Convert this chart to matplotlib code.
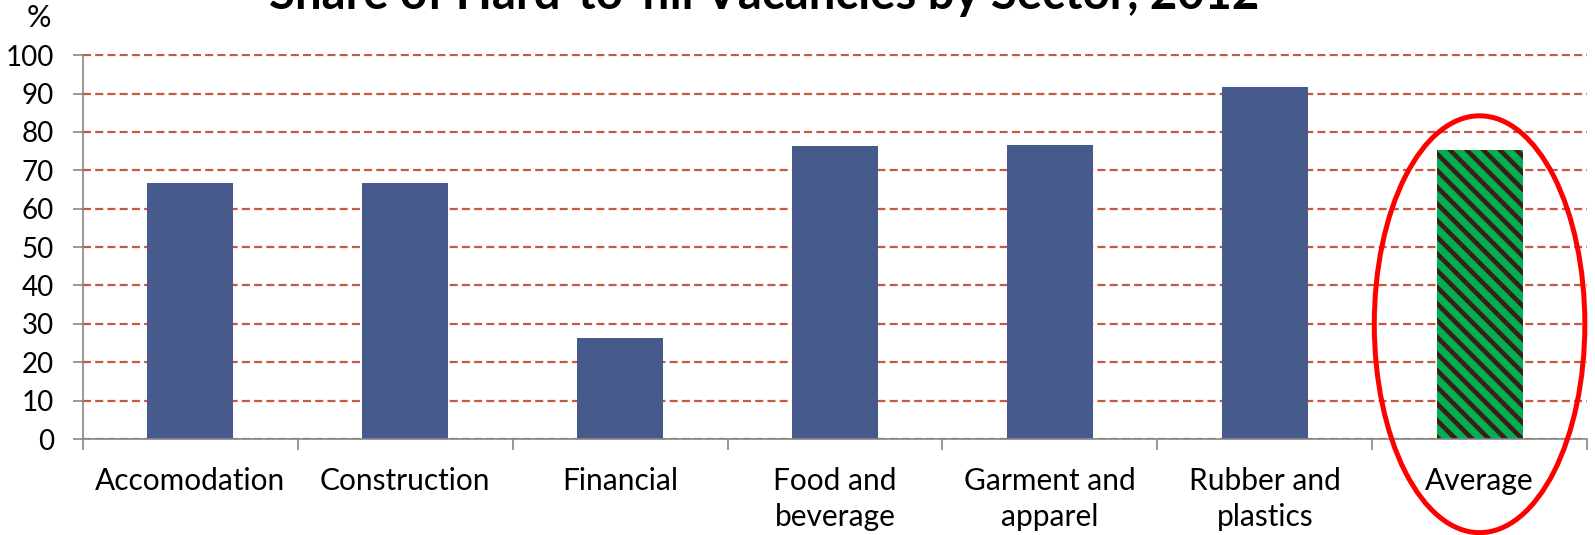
import matplotlib
matplotlib.use("Agg")
import matplotlib.pyplot as plt
from matplotlib.patches import Ellipse

categories = ["Accomodation", "Construction", "Financial", "Food and\nbeverage",
              "Garment and\napparel", "Rubber and\nplastics", "Average"]
values = [66.7, 66.8, 26.4, 76.4, 76.5, 91.8, 75.2]
yticks = [0, 10, 20, 30, 40, 50, 60, 70, 80, 90, 100]
title = "Share of Hard-to-fill Vacancies by Sector, 2012"

plt.rcParams['font.family'] = ['Lato', 'DejaVu Sans']
plt.rcParams['hatch.linewidth'] = 3.3

fig = plt.figure(figsize=(15.95, 5.35), dpi=100)
ax = fig.add_axes([83/1595, 96/535, 1504/1595, 385/535])

x = list(range(len(categories)))
bars = ax.bar(x[:-1], values[:-1], width=0.4, color='#475A8C', zorder=2)
avg = ax.bar(x[-1:], values[-1:], width=0.4, color='#00B050',
             edgecolor='#3A1F17', linewidth=0, hatch='\\\\', zorder=2)

ax.set_xlim(-0.5, len(categories) - 0.5)
ax.set_ylim(0, 100.3)
ax.set_yticks(yticks)
ax.set_yticklabels([str(v) for v in yticks], fontsize=20)

ax.set_xticks(x)
ax.set_xticklabels(categories, fontsize=21.5, linespacing=1.36)
ax.set_xticks([i - 0.5 for i in range(len(categories) + 1)], minor=True)
ax.tick_params(axis='x', which='major', length=0, pad=20)
ax.tick_params(axis='x', which='minor', length=8, width=1.2, color='#868686')
ax.tick_params(axis='y', length=7, width=1.2, color='#868686', pad=14)

for s in ['top', 'right']:
    ax.spines[s].set_visible(False)
for s in ['left', 'bottom']:
    ax.spines[s].set_color('#868686')
    ax.spines[s].set_linewidth(1.2)
ax.spines['left'].set_bounds(0, 100)

ax.set_axisbelow(True)
ax.yaxis.grid(True, color='#C55A40', linewidth=1.6, linestyle=(0, (3.6, 1.9)))
ax.xaxis.grid(False)

ell = Ellipse((6, 29.9), width=0.98, height=108.6, fill=False,
              edgecolor='#FF0000', linewidth=3.6, clip_on=False, zorder=5)
ax.add_patch(ell)

fig.text(764/1595, 1 - 9/535, title, ha='center', va='baseline',
         fontsize=34, fontweight='bold')
fig.text(39/1595, 1 - 18/535, '%', ha='center', va='center', fontsize=22)

fig.savefig('out.png', dpi=100)
